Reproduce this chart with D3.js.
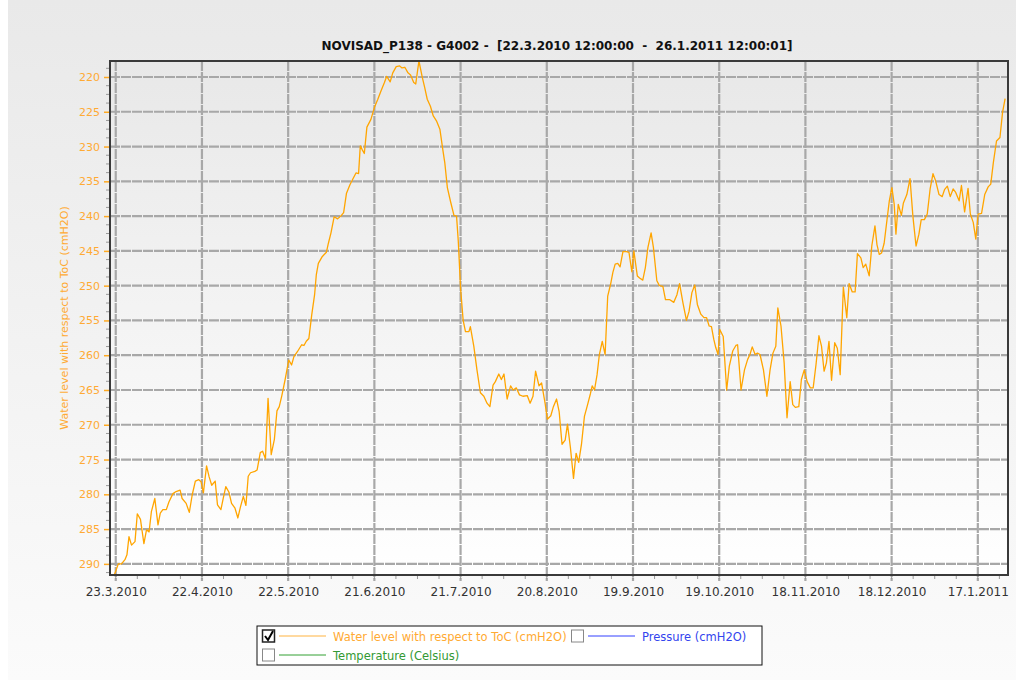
<!DOCTYPE html>
<html>
<head>
<meta charset="utf-8">
<title>NOVISAD_P138 - G4002</title>
<script src="https://d3js.org/d3.v7.min.js"></script>
<style>
	body { margin: 0; background: #ffffff; }
	svg { display: block; font-family: "DejaVu Sans", Verdana, sans-serif; }
</style>
</head>
<body>
<script>
// Chart data (days counted from 23.3.2010 00:00)
var dayOffset = [
	-0.5, 0.9, 2.0, 3.2, 3.9, 4.6, 5.5, 6.7, 7.5, 8.6, 9.8, 10.7, 11.6, 12.4, 13.6, 14.7, 15.5, 16.4, 17.6, 18.5,
	19.9, 21.0, 22.4, 23.1, 24.5, 25.6, 26.6, 27.7, 28.9, 29.7, 30.5, 31.6, 32.5, 33.4, 34.6, 35.4, 36.6, 37.4, 38.3, 39.4,
	40.3, 41.5, 42.5, 43.4, 44.4, 45.3, 46.1, 46.9, 48.4, 49.2, 50.3, 51.1, 52.1, 53.0, 54.1, 55.2, 56.1, 56.9, 57.8, 58.9,
	60.2, 61.2, 62.0, 63.2, 64.7, 65.5, 66.3, 67.2, 68.2, 69.2, 69.8, 70.5, 71.9, 73.3, 74.0, 74.9, 76.0, 77.2, 78.3, 79.3,
	80.3, 81.5, 82.6, 83.6, 84.5, 85.1, 85.7, 86.5, 87.4, 88.8, 90.0, 91.2, 92.3, 93.5, 94.3, 95.5, 96.4, 97.6, 98.8, 99.6,
	100.6, 101.7, 102.6, 103.7, 104.4, 105.5, 106.7, 107.5, 108.4, 109.5, 110.5, 111.6, 112.8, 113.8, 114.5, 115.4, 116.5, 117.7, 118.6, 119.2,
	120.0, 120.9, 121.7, 122.9, 123.4, 124.6, 125.7, 126.9, 128.1, 129.2, 130.2, 131.3, 132.1, 133.3, 134.2, 135.1, 136.2, 137.4, 138.3, 139.4,
	140.5, 141.7, 143.2, 144.2, 145.2, 146.1, 147.3, 148.2, 149.4, 150.2, 151.4, 152.3, 153.4, 154.3, 155.3, 156.4, 157.2, 158.2, 159.3, 160.2,
	161.1, 162.1, 163.1, 164.2, 165.2, 165.8, 166.6, 167.5, 168.3, 169.3, 170.3, 171.2, 172.2, 173.0, 173.8, 174.7, 175.5, 176.5, 177.7, 178.6,
	179.6, 180.3, 181.5, 182.3, 183.4, 184.3, 185.2, 186.3, 187.1, 188.3, 189.2, 190.4, 191.3, 192.7, 194.2, 195.3, 196.2, 197.4, 198.6, 199.5,
	200.5, 201.5, 202.4, 203.6, 204.7, 205.6, 206.5, 207.3, 208.1, 208.8, 209.6, 210.2, 211.4, 212.6, 213.5, 214.7, 215.8, 216.4, 217.6, 218.8,
	219.9, 220.7, 221.5, 222.5, 223.3, 224.2, 225.4, 226.6, 227.7, 228.7, 229.7, 230.4, 231.5, 232.6, 233.6, 234.7, 235.6, 236.5, 237.7, 238.6,
	239.6, 240.6, 241.7, 242.7, 243.7, 244.7, 245.6, 246.5, 247.3, 248.2, 249.1, 250.2, 251.1, 252.1, 253.2, 254.4, 255.2, 256.3, 257.3, 258.1,
	259.3, 260.1, 261.0, 262.2, 263.1, 264.2, 264.9, 265.7, 266.5, 267.4, 268.4, 269.2, 270.1, 270.9, 271.5, 272.3, 273.4, 274.1, 275.3, 276.4,
	277.4, 278.5, 279.5, 280.3, 281.4, 282.4, 283.4, 284.4, 285.3, 286.5, 287.6, 288.4, 289.4, 290.4, 291.4, 292.3, 293.5, 294.3, 295.4, 296.6,
	297.4, 298.4, 299.3, 300.1, 301.3, 302.4, 303.6, 304.5, 305.4, 306.5, 307.7, 308.6, 309.5
];

var level = [
	291.6, 290.0, 290.0, 289.4, 288.7, 286.1, 287.3, 286.8, 282.8, 283.6, 287.1, 285.1, 285.4, 282.5, 280.6, 284.4, 282.7, 282.2, 282.2, 281.1,
	279.9, 279.6, 279.4, 280.6, 281.3, 282.6, 280.1, 278.1, 277.9, 278.2, 279.8, 275.9, 277.5, 278.7, 278.1, 281.5, 282.2, 280.6, 278.9, 279.7,
	281.3, 282.0, 283.4, 281.8, 280.3, 281.6, 277.4, 276.9, 276.7, 276.5, 274.0, 273.8, 274.9, 266.2, 274.3, 272.1, 268.0, 267.4, 265.8, 263.6,
	260.7, 261.4, 260.2, 259.5, 258.5, 258.6, 258.0, 257.6, 254.2, 251.3, 248.4, 246.8, 245.8, 245.2, 243.9, 242.4, 240.1, 240.4, 240.0, 239.5,
	236.7, 235.5, 234.6, 233.8, 233.9, 229.9, 230.4, 231.0, 227.2, 226.1, 224.4, 223.2, 222.0, 220.8, 219.9, 220.7, 219.4, 218.5, 218.4, 218.7,
	218.6, 219.4, 219.7, 220.8, 221.0, 217.7, 220.1, 221.5, 223.2, 224.2, 225.6, 226.3, 227.5, 230.4, 232.3, 235.9, 237.9, 239.9, 240.0, 243.6,
	250.4, 255.0, 256.6, 256.6, 255.9, 258.7, 262.1, 265.4, 265.9, 266.9, 267.4, 264.3, 263.8, 262.7, 263.5, 262.7, 266.3, 264.4, 265.0, 264.7,
	265.7, 265.9, 265.8, 266.9, 265.9, 262.3, 264.4, 264.0, 266.9, 269.2, 268.7, 267.4, 266.3, 268.1, 272.8, 272.2, 269.9, 273.2, 277.7, 274.1,
	275.4, 272.7, 268.8, 267.1, 265.5, 264.4, 265.0, 262.8, 259.9, 258.0, 259.9, 251.5, 249.8, 248.1, 246.9, 246.8, 247.3, 245.1, 245.1, 245.2,
	248.0, 245.0, 248.6, 248.9, 249.2, 247.4, 244.5, 242.4, 244.5, 249.3, 250.0, 250.1, 252.0, 252.0, 252.4, 251.3, 249.7, 252.5, 255.0, 253.7,
	251.0, 249.9, 252.7, 254.1, 254.6, 254.6, 255.8, 255.9, 257.7, 258.9, 259.9, 256.3, 257.3, 265.0, 261.6, 259.4, 258.6, 258.5, 265.0, 262.1,
	260.6, 259.9, 258.8, 259.9, 259.7, 259.9, 262.1, 265.9, 262.1, 259.7, 258.7, 253.2, 255.8, 261.1, 269.0, 263.8, 267.1, 267.5, 267.4, 263.5,
	262.1, 263.8, 264.7, 264.7, 261.3, 257.2, 258.7, 262.3, 261.1, 258.0, 263.6, 258.2, 259.0, 262.8, 250.2, 254.6, 249.7, 250.9, 250.9, 245.4,
	246.0, 247.4, 246.9, 248.6, 244.3, 241.4, 244.1, 245.5, 245.3, 243.9, 240.5, 237.8, 235.9, 238.3, 242.6, 238.3, 239.9, 238.1, 236.9, 234.6,
	240.0, 244.3, 242.6, 240.5, 240.5, 239.7, 236.1, 233.9, 234.9, 236.9, 237.2, 236.2, 235.7, 237.2, 236.1, 236.6, 237.8, 235.6, 239.4, 236.0,
	239.7, 240.9, 243.3, 239.7, 239.6, 236.9, 235.8, 235.4, 232.3, 229.2, 228.7, 225.1, 223.1
];

var xTickLabels = ["23.3.2010", "22.4.2010", "22.5.2010", "21.6.2010", "21.7.2010", "20.8.2010",
	"19.9.2010", "19.10.2010", "18.11.2010", "18.12.2010", "17.1.2011"];
var yTicks = [220, 225, 230, 235, 240, 245, 250, 255, 260, 265, 270, 275, 280, 285, 290];

var legendLabels = ["Water level with respect to ToC (cmH2O)", "Pressure (cmH2O)", "Temperature (Celsius)"];
var legendChecked = [true, false, false];

var titleText = "NOVISAD_P138 - G4002 -  [22.3.2010 12:00:00  -  26.1.2011 12:00:01]";
var yLabelText = "Water level with respect to ToC (cmH2O)";

// Global variables
var width = 1024,
	height = 686,
	svg,
	x,
	y,
	plot = { left: 110, top: 61, right: 1008, bottom: 575 };

var t0 = Date.UTC(2010, 2, 23);
var parseTick = d3.utcParse("%d.%m.%Y");

function toDate(d) {
	return new Date(t0 + d * 864e5);
}

function init() {
	svg = d3.select("body")
		.append("svg")
		.attr("width", width)
		.attr("height", height);

	setScales();
	drawBackground();
	drawGrid();
	drawLine();
	drawAxes();
	drawLegend();
}

function setScales() {
	x = d3.scaleUtc()
		.domain([toDate(-2), toDate(310.5)])
		.range([plot.left, plot.right]);

	// y axis is inverted: lower water level sits higher
	y = d3.scaleLinear()
		.domain(d3.extent(level))
		.range([plot.top, plot.bottom]);
}

function drawBackground() {
	var defs = svg.append("defs");

	var panelGrad = defs.append("linearGradient")
		.attr("id", "panelGrad")
		.attr("x1", "0%").attr("y1", "0%")
		.attr("x2", "0%").attr("y2", "100%");
	panelGrad.append("stop").attr("offset", "0%").attr("stop-color", "#e9e9e9");
	panelGrad.append("stop").attr("offset", "100%").attr("stop-color", "#fbfbfb");

	var plotGrad = defs.append("linearGradient")
		.attr("id", "plotGrad")
		.attr("x1", "0%").attr("y1", "0%")
		.attr("x2", "0%").attr("y2", "100%");
	plotGrad.append("stop").attr("offset", "0%").attr("stop-color", "#e8e8e8");
	plotGrad.append("stop").attr("offset", "100%").attr("stop-color", "#ffffff");

	svg.append("rect")
		.attr("x", 8)
		.attr("y", 0)
		.attr("width", 1008)
		.attr("height", 680)
		.style("fill", "url(#panelGrad)");

	svg.append("rect")
		.attr("x", plot.left)
		.attr("y", plot.top)
		.attr("width", plot.right - plot.left)
		.attr("height", plot.bottom - plot.top)
		.style("fill", "url(#plotGrad)");

	svg.append("text")
		.attr("x", 557)
		.attr("y", 50)
		.attr("text-anchor", "middle")
		.style("white-space", "pre")
		.style("font-size", "12px")
		.style("font-weight", "bold")
		.attr("fill", "#111")
		.text(titleText);
}

function drawGrid() {
	var grid = svg.append("g").attr("class", "grid");

	grid.selectAll("line.h")
		.data(yTicks)
		.enter().append("line")
		.attr("class", "h")
		.attr("x1", plot.left)
		.attr("x2", plot.right)
		.attr("y1", function(d) { return y(d); })
		.attr("y2", function(d) { return y(d); });

	grid.selectAll("line.v")
		.data(xTickLabels)
		.enter().append("line")
		.attr("class", "v")
		.attr("x1", function(d) { return x(parseTick(d)); })
		.attr("x2", function(d) { return x(parseTick(d)); })
		.attr("y1", plot.top)
		.attr("y2", plot.bottom + 6);

	grid.selectAll("line")
		.attr("stroke", "#a8a8a8")
		.attr("stroke-width", 2.2)
		.attr("stroke-dasharray", "10,1");
}

function drawLine() {
	var line = d3.line()
		.x(function(d, i) { return x(toDate(dayOffset[i])); })
		.y(function(d) { return y(d); });

	svg.append("path")
		.datum(level)
		.attr("d", line)
		.attr("fill", "none")
		.attr("stroke", "#ffa500")
		.attr("stroke-width", 1.3)
		.attr("stroke-linejoin", "round");
}

function drawAxes() {
	// minor ticks
	var yMinor = d3.range(216.25, 292, 1.25).filter(function(v) {
		return v >= y.domain()[0] && v <= y.domain()[1] && v % 5 !== 0;
	});

	svg.append("g")
		.selectAll("line")
		.data(yMinor)
		.enter().append("line")
		.attr("x1", plot.left - 4)
		.attr("x2", plot.left)
		.attr("y1", function(d) { return y(d); })
		.attr("y2", function(d) { return y(d); })
		.attr("stroke", "#999")
		.attr("stroke-width", 1);

	var tickDates = xTickLabels.map(parseTick);
	var xMinor = [];
	var step = 7.5 * 864e5;
	for (var t = tickDates[0].getTime(); t <= x.domain()[1].getTime(); t += step) {
		xMinor.push(new Date(t));
	}

	svg.append("g")
		.selectAll("line")
		.data(xMinor)
		.enter().append("line")
		.attr("x1", function(d) { return x(d); })
		.attr("x2", function(d) { return x(d); })
		.attr("y1", plot.bottom)
		.attr("y2", plot.bottom + 4)
		.attr("stroke", "#999")
		.attr("stroke-width", 1);

	var yAxis = d3.axisLeft(y)
		.tickValues(yTicks)
		.tickSize(5)
		.tickPadding(4);

	var yG = svg.append("g")
		.attr("transform", "translate(" + (plot.left - 1) + ",0)")
		.call(yAxis);
	yG.select(".domain").remove();
	yG.selectAll(".tick line").attr("stroke", "#ffaa22").attr("stroke-width", 1.5);
	yG.selectAll(".tick text")
		.attr("fill", "#ffaa33")
		.style("font-size", "11px")
		.style("font-family", "DejaVu Sans");

	var xAxis = d3.axisBottom(x)
		.tickValues(tickDates)
		.tickFormat(function(d, i) { return xTickLabels[i]; })
		.tickSize(0)
		.tickPadding(12);

	var xG = svg.append("g")
		.attr("transform", "translate(0," + plot.bottom + ")")
		.call(xAxis);
	xG.select(".domain").remove();
	xG.selectAll(".tick text")
		.attr("fill", "#333")
		.style("font-size", "12px")
		.style("font-family", "DejaVu Sans");

	// plot frame
	svg.append("rect")
		.attr("x", plot.left)
		.attr("y", plot.top)
		.attr("width", plot.right - plot.left)
		.attr("height", plot.bottom - plot.top)
		.attr("fill", "none")
		.attr("stroke", "#3a3a3a")
		.attr("stroke-width", 2);

	svg.append("text")
		.attr("transform", "translate(68," + ((plot.top + plot.bottom) / 2) + ") rotate(-90)")
		.attr("text-anchor", "middle")
		.attr("fill", "#ffaa33")
		.style("font-size", "11px")
		.text(yLabelText);
}

function drawLegend() {
	var colors = ["#ffb340", "#3340ff", "#33a033"];
	var textColors = ["#ffaa33", "#3344ee", "#339933"];
	// item positions: [checkbox x, row y]
	var pos = [[262, 636], [571, 636], [262, 655]];

	var key = svg.append("g").attr("class", "legend");

	key.append("rect")
		.attr("x", 257)
		.attr("y", 626)
		.attr("width", 505)
		.attr("height", 39)
		.attr("fill", "#fff")
		.attr("stroke", "#111")
		.attr("stroke-width", 1);

	var item = key.selectAll("g.item")
		.data(legendLabels)
		.enter().append("g")
		.attr("class", "item")
		.attr("transform", function(d, i) { return "translate(" + pos[i][0] + "," + pos[i][1] + ")"; });

	item.append("rect")
		.attr("x", 0.5)
		.attr("y", -6)
		.attr("width", 12)
		.attr("height", 12)
		.attr("fill", "#fff")
		.attr("stroke", function(d, i) { return legendChecked[i] ? "#222" : "#888"; })
		.attr("stroke-width", function(d, i) { return legendChecked[i] ? 1.5 : 1; });

	item.filter(function(d, i) { return legendChecked[i]; })
		.append("path")
		.attr("d", "M3,0 L6,4 L11,-5")
		.attr("fill", "none")
		.attr("stroke", "#000")
		.attr("stroke-width", 2);

	item.append("line")
		.attr("x1", 17)
		.attr("x2", 64)
		.attr("y1", 0)
		.attr("y2", 0)
		.attr("stroke", function(d, i) { return colors[i]; })
		.attr("stroke-width", 1);

	item.append("text")
		.attr("x", 71)
		.attr("y", 4.5)
		.attr("fill", function(d, i) { return textColors[i]; })
		.style("font-size", "11.5px")
		.text(function(d) { return d; });
}

window.onload = init();
</script>
</body>
</html>
